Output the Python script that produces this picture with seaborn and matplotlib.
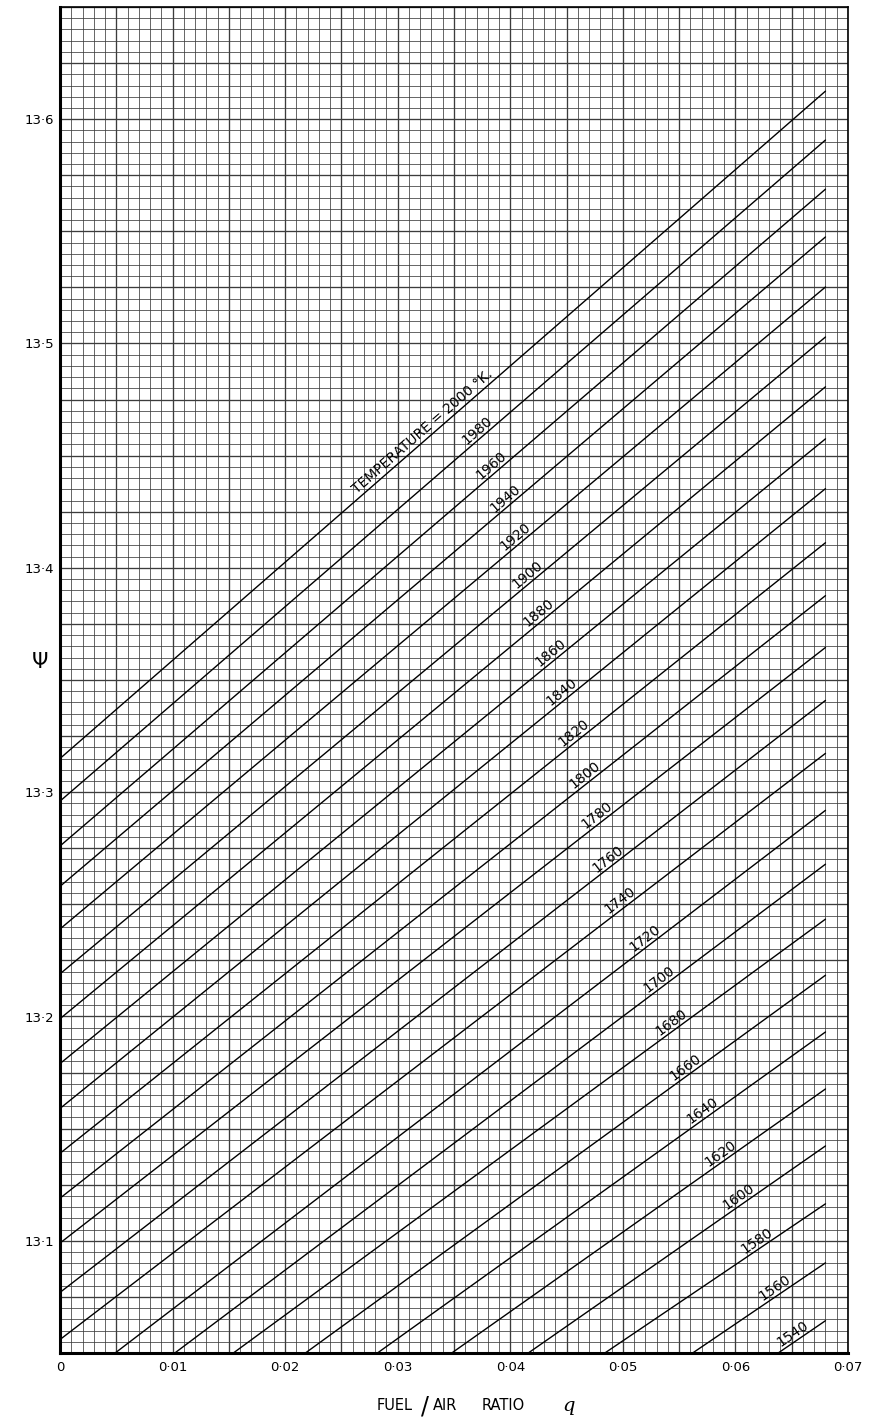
import numpy as np
import pandas as pd
import matplotlib
matplotlib.use("Agg")
import matplotlib.pyplot as plt
import seaborn as sns

# Temperature lines (deg K) of the psi / fuel-air ratio chart
temperatures = [2000, 1980, 1960, 1940, 1920, 1900, 1880, 1860, 1840, 1820,
                1800, 1780, 1760, 1740, 1720, 1700, 1680, 1660, 1640, 1620,
                1600, 1580, 1560, 1540]

# Where each line starts: on the left edge (q = 0) or on the bottom edge (psi = 13.05)
start_q = [0.0, 0.0, 0.0, 0.0, 0.0, 0.0, 0.0, 0.0, 0.0, 0.0,
           0.0, 0.0, 0.0, 0.0, 0.0049, 0.0102, 0.0154, 0.0218, 0.0282, 0.0348,
           0.0416, 0.0484, 0.0562, 0.0638]
start_psi = [13.315, 13.296, 13.276, 13.258, 13.239, 13.219, 13.199, 13.179, 13.159, 13.139,
             13.119, 13.099, 13.077, 13.056, 13.05, 13.05, 13.05, 13.05, 13.05, 13.05,
             13.05, 13.05, 13.05, 13.05]

# Where each line ends (right-hand end at q = 0.068)
end_q = [0.068] * 24
end_psi = [13.6125, 13.5907, 13.5688, 13.5475, 13.5252, 13.5029, 13.4807, 13.4575, 13.4353, 13.4112,
           13.3876, 13.3645, 13.3409, 13.3173, 13.2919, 13.2679, 13.2434, 13.2184, 13.1931, 13.1677,
           13.1423, 13.1165, 13.0902, 13.0644]

# Fuel/air ratio at which each temperature is lettered along its line
label_q = [0.0327, 0.0375, 0.0388, 0.0400, 0.0409, 0.0420, 0.0430, 0.0440, 0.0450, 0.0461,
           0.0471, 0.0481, 0.0491, 0.0502, 0.0524, 0.0536, 0.0547, 0.0560, 0.0575, 0.0591,
           0.0607, 0.0623, 0.0639, 0.0655]

x_ticks = [0.0, 0.01, 0.02, 0.03, 0.04, 0.05, 0.06, 0.07]
x_tick_labels = ["0", "0·01", "0·02", "0·03", "0·04", "0·05", "0·06", "0·07"]
y_ticks = [13.1, 13.2, 13.3, 13.4, 13.5, 13.6]
y_tick_labels = ["13·1", "13·2", "13·3", "13·4", "13·5", "13·6"]

rows = []
for t, q0, p0, q1, p1 in zip(temperatures, start_q, start_psi, end_q, end_psi):
    rows.append({"T": t, "q": q0, "psi": p0})
    rows.append({"T": t, "q": q1, "psi": p1})
lines = pd.DataFrame(rows)

sns.set_style("white")
plt.rcParams["font.family"] = ["DejaVu Sans"]
plt.rcParams["text.color"] = "black"
plt.rcParams["xtick.color"] = "black"
plt.rcParams["ytick.color"] = "black"

W, H = 869, 1426
fig = plt.figure(figsize=(W / 100, H / 100), dpi=100)
ax = fig.add_axes([60 / W, 73 / H, 788 / W, 1346 / H])
ax.set_xlim(0, 0.07)
ax.set_ylim(13.05, 13.65)

# graph-paper ruling
grid_col = "#3c3c3c"
for i in range(0, 71):
    x = i * 0.001
    ax.axvline(x, color=grid_col, lw=0.95 if i % 5 == 0 else 0.55, zorder=0)
for j in range(0, 121):
    y = 13.05 + j * 0.005
    ax.axhline(y, color=grid_col, lw=0.95 if j % 5 == 0 else 0.55, zorder=0)

sns.lineplot(data=lines, x="q", y="psi", units="T", estimator=None,
             color="black", lw=1.0, ax=ax, legend=False, zorder=3)

ax.set_xticks(x_ticks)
ax.set_xticklabels(x_tick_labels, fontsize=9.5, color="black")
ax.set_yticks(y_ticks)
ax.set_yticklabels(y_tick_labels, fontsize=9.5, color="black")
ax.tick_params(axis="both", length=0, pad=6)
ax.tick_params(axis="y", pad=4)
ax.set_xlabel("")
ax.set_ylabel("")
for side, s in ax.spines.items():
    s.set_color("black")
    s.set_linewidth(1.2)
ax.spines["left"].set_linewidth(2.2)
ax.spines["bottom"].set_linewidth(2.2)

# temperature lettering along each line
for i, t in enumerate(temperatures):
    q0, p0, q1, p1 = start_q[i], start_psi[i], end_q[i], end_psi[i]
    a = ax.transData.transform((q0, p0))
    b = ax.transData.transform((q1, p1))
    ang = np.degrees(np.arctan2(b[1] - a[1], b[0] - a[0]))
    ql = label_q[i]
    pl = p0 + (p1 - p0) * (ql - q0) / (q1 - q0)
    d = 8.0
    off = (-np.sin(np.radians(ang)) * d, np.cos(np.radians(ang)) * d)
    txt = "TEMPERATURE = 2000 °K." if i == 0 else str(t)
    ax.annotate(txt, (ql, pl), xytext=off, textcoords="offset pixels",
                ha="center", va="center", rotation=ang, rotation_mode="anchor",
                fontsize=10, color="black", zorder=4)

# axis titles
fig.text(40 / W, 1 - 662 / H, "Ψ", fontsize=15, ha="center", va="center", color="black")
ly = 1 - 1406 / H
fig.text(377 / W, ly, "FUEL", fontsize=10.5, ha="left", va="center", color="black")
fig.text(425 / W, ly, "/", fontsize=17, ha="center", va="center", color="black")
fig.text(433 / W, ly, "AIR", fontsize=10.5, ha="left", va="center", color="black")
fig.text(482 / W, ly, "RATIO", fontsize=10.5, ha="left", va="center", color="black")
fig.text(569 / W, ly, "q", fontsize=14, ha="center", va="center", style="italic",
         family="DejaVu Serif", color="black")

fig.savefig("out.png", dpi=100, facecolor="white")
